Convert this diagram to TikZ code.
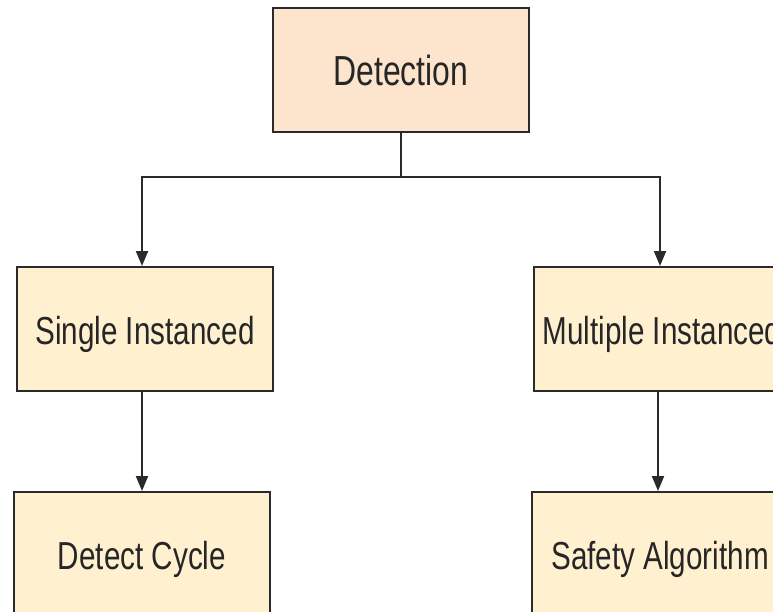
\documentclass[tikz,border=0pt]{standalone}
\usepackage{fontspec}
\setmainfont{Liberation Sans}[FakeStretch=0.76]
\usetikzlibrary{arrows.meta}
\definecolor{rootfill}{HTML}{FDE4CD}
\definecolor{leaffill}{HTML}{FFF0D0}
\definecolor{edge}{HTML}{2A2A2A}
\tikzset{
  box/.style={draw=edge, line width=2pt, rectangle, minimum width=256pt,
    minimum height=124pt, inner sep=0pt, text=black!85,
    text height=36pt, text depth=6pt,
    font=\fontsize{39}{46}\selectfont},
  rootbox/.style={box, fill=rootfill, font=\fontsize{42}{50}\selectfont},
  leafbox/.style={box, fill=leaffill},
  link/.style={draw=edge, line width=2pt, -{Triangle[length=15pt,width=12pt]}}
}
\begin{document}
\begin{tikzpicture}[x=1pt,y=-1pt]
  \useasboundingbox (0,0) rectangle (773,611);
  \clip (0,0) rectangle (773,611);
  \fill[white] (0,0) rectangle (773,611);

  \node[rootbox] (det) at (401,70) {Detection};
  \node[leafbox] (single) at (145,329) {Single Instanced};
  \node[leafbox] (multi) at (662,329) {Multiple Instanced};
  \node[leafbox] (cycle) at (142,554) {Detect Cycle};
  \node[leafbox] (safety) at (660,554) {Safety Algorithm};

  \draw[draw=edge, line width=2pt] (det.south) -- ++(0,44) coordinate (split);
  \draw[link] (split) -| ([xshift=-3pt]single.north);
  \draw[link] (split) -| ([xshift=-2pt]multi.north);
  \draw[link] ([xshift=-3pt]single.south) -- (cycle.north);
  \draw[link] ([xshift=-4pt]multi.south) -- ([xshift=-2pt]safety.north);
\end{tikzpicture}
\end{document}
